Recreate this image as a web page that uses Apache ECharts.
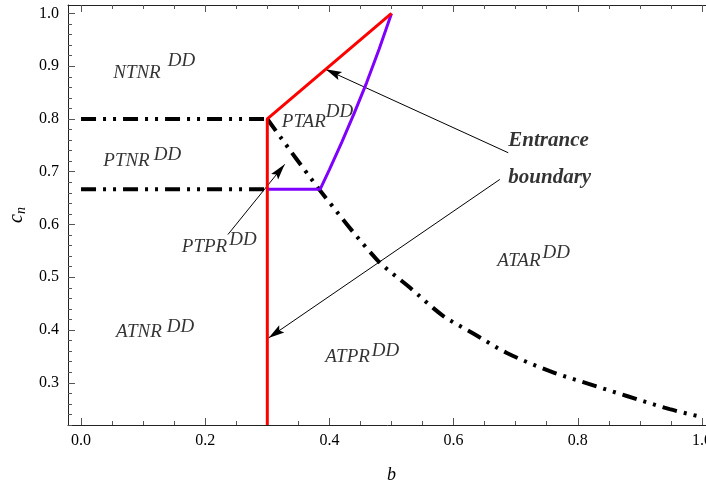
<!DOCTYPE html>
<html>
<head>
<meta charset="utf-8">
<script src="https://cdn.jsdelivr.net/npm/echarts@6/dist/echarts.min.js"></script>
<style>
  html, body { margin: 0; padding: 0; background: #fff; }
  #main { width: 706px; height: 488px; }
</style>
</head>
<body>
<div id="main"></div>
<script>
// axis ticks
var xMajor = [0, 0.2, 0.4, 0.6, 0.8, 1.0];
var xMinor = [0.05, 0.1, 0.15, 0.25, 0.3, 0.35, 0.45, 0.5, 0.55, 0.65, 0.7, 0.75, 0.85, 0.9, 0.95];
var yMajor = [0.3, 0.4, 0.5, 0.6, 0.7, 0.8, 0.9, 1.0];
var yMinor = [0.22, 0.24, 0.26, 0.28, 0.32, 0.34, 0.36, 0.38, 0.42, 0.44, 0.46, 0.48,
              0.52, 0.54, 0.56, 0.58, 0.62, 0.64, 0.66, 0.68, 0.72, 0.74, 0.76, 0.78,
              0.82, 0.84, 0.86, 0.88, 0.92, 0.94, 0.96, 0.98];

// boundaries (b, c_n)
var redBoundary = [[0.3, 0.22], [0.3, 0.8], [0.5, 1.0]];
var purpleBoundary = [[0.3, 0.6667], [0.385, 0.6667], [0.40, 0.704], [0.42, 0.756],
                      [0.44, 0.811], [0.46, 0.869], [0.48, 0.932], [0.50, 1.0]];
var upperLine = [[0, 0.8], [0.3, 0.8]];
var lowerLine = [[0, 0.6667], [0.3, 0.6667]];
var dashCurve = [[0.3, 0.8], [0.384, 0.666], [0.476, 0.534], [0.529, 0.481], [0.583, 0.427],
                 [0.631, 0.394], [0.685, 0.357], [0.755, 0.322], [0.820, 0.297],
                 [0.879, 0.275], [0.948, 0.250], [1.0, 0.235]];

// region names and where they sit
var regionNames = ['NTNR', 'PTNR', 'PTAR', 'PTPR', 'ATNR', 'ATPR', 'ATAR'];
var regionAnchors = [[0.051, 0.888], [0.035, 0.7195], [0.3226, 0.7934], [0.1615, 0.558],
                     [0.0556, 0.3954], [0.3924, 0.348], [0.6696, 0.530]];
var noteText = 'Entrance\nboundary';
var noteAnchor = [0.6873, 0.7233];

// arrows: [tail, head]
var arrows = [
  [[0.688, 0.736], [0.394, 0.894]],
  [[0.6745, 0.6854], [0.302, 0.385]],
  [[0.2366, 0.581], [0.328, 0.714]]
];

var supRaise = [12, 6, 10, 7, 5, 6, 8];
var supGap = [7, 4, 0, 2, 5, 2, 2];

var FONT = "'Liberation Serif', 'Times New Roman', serif";
var X_MIN = -0.021, X_MAX = 1.021, Y_MIN = 0.22, Y_MAX = 1.016;

// notched arrow head with its tip at the centre of a padded square box,
// so the tip lands on the end point and the shape is not stretched
var ARROW_HEAD = 'path://M-16,-16 M16,16 M0,0 L4.5,16 L0,13 L-4.5,16 Z';

function frameAxis(pos, ticks, len, withLine) {
  return {
    type: 'value',
    position: pos,
    min: (pos == 'left' || pos == 'right') ? Y_MIN : X_MIN,
    max: (pos == 'left' || pos == 'right') ? Y_MAX : X_MAX,
    axisLine: { show: withLine, onZero: false, lineStyle: { color: '#222', width: 1 } },
    axisTick: { show: true, inside: true, length: len, customValues: ticks,
                lineStyle: { color: '#555', width: 1 } },
    axisLabel: { show: false },
    splitLine: { show: false },
    silent: true
  };
}

var xBottom = frameAxis('bottom', xMajor, 7, true);
xBottom.axisLabel = {
  show: true, customValues: xMajor, margin: 8,
  fontFamily: FONT, fontSize: 16, color: '#000',
  formatter: function (v) { return v.toFixed(1); }
};
xBottom.name = 'b';
xBottom.nameLocation = 'middle';
xBottom.nameGap = 41;
xBottom.nameTextStyle = { fontFamily: FONT, fontStyle: 'italic', fontSize: 18, color: '#000' };

var yLeft = frameAxis('left', yMajor, 7, true);
yLeft.axisLabel = {
  show: true, customValues: yMajor, margin: 9,
  fontFamily: FONT, fontSize: 16, color: '#000',
  formatter: function (v) { return v.toFixed(1); }
};
yLeft.name = 'c{s|n}';
yLeft.nameLocation = 'middle';
yLeft.nameRotate = 90;
yLeft.nameGap = 39;
yLeft.nameTextStyle = {
  fontFamily: FONT, fontStyle: 'italic', fontSize: 20, color: '#000',
  rich: { s: { fontFamily: FONT, fontStyle: 'italic', fontSize: 14, color: '#000',
               verticalAlign: 'bottom', padding: [8, 0, 0, 0] } }
};

var regionData = regionNames.map(function (name, i) {
  var r = supRaise[i];
  var base = { fontFamily: FONT, fontStyle: 'italic', fontSize: 19, color: '#000' };
  return {
    value: regionAnchors[i],
    label: {
      formatter: '{m|' + name + '}{s|DD}',
      offset: [0, -r / 2],
      rich: {
        m: Object.assign({ padding: [r, 0, 0, 0] }, base),
        s: Object.assign({ verticalAlign: 'top', padding: [0, 0, 0, supGap[i]] }, base)
      }
    }
  };
});
regionData.push({
  value: noteAnchor,
  label: {
    formatter: noteText, fontFamily: FONT, fontStyle: 'italic', fontWeight: 'bold',
    fontSize: 21, lineHeight: 37, color: '#000'
  }
});

var option = {
  backgroundColor: '#fff',
  animation: false,
  // frame runs past the right edge of the window, as in the original
  grid: { left: 68, top: 5, width: 647, height: 420, containLabel: false, outerBoundsMode: 'none' },
  xAxis: [xBottom, frameAxis('bottom', xMinor, 4, false),
          frameAxis('top', xMajor, 7, true), frameAxis('top', xMinor, 4, false)],
  yAxis: [yLeft, frameAxis('left', yMinor, 4, false)],
  series: [
    {
      type: 'line', data: upperLine, showSymbol: false, silent: true,
      lineStyle: { color: '#000', width: 4, type: [15, 7, 3, 7, 3, 7], cap: 'butt' }
    },
    {
      type: 'line', data: lowerLine, showSymbol: false, silent: true,
      lineStyle: { color: '#000', width: 4, type: [15, 7, 3, 7, 3, 7], cap: 'butt' }
    },
    {
      type: 'line', data: dashCurve, showSymbol: false, silent: true, smooth: 0.3,
      lineStyle: { color: '#000', width: 4, type: [15, 7, 3, 7, 3, 7], cap: 'butt' }
    },
    {
      type: 'line', data: purpleBoundary, showSymbol: false, silent: true,
      lineStyle: { color: '#7f00ff', width: 3 }
    },
    {
      type: 'line', data: redBoundary, showSymbol: false, silent: true,
      lineStyle: { color: '#ff0000', width: 3 }
    },
    {
      type: 'lines', coordinateSystem: 'cartesian2d', silent: true,
      symbol: ['none', ARROW_HEAD], symbolSize: 32,
      lineStyle: { color: '#000', width: 1, opacity: 1, curveness: 0 },
      itemStyle: { color: '#000' },
      data: arrows.map(function (a) { return { coords: a }; })
    },
    {
      type: 'scatter', data: regionData, symbolSize: 1, silent: true,
      itemStyle: { color: 'rgba(0,0,0,0)' },
      label: { show: true, position: 'right', distance: 0 }
    }
  ]
};

var myChart = echarts.init(document.getElementById('main'));
myChart.setOption(option);
</script>
</body>
</html>
